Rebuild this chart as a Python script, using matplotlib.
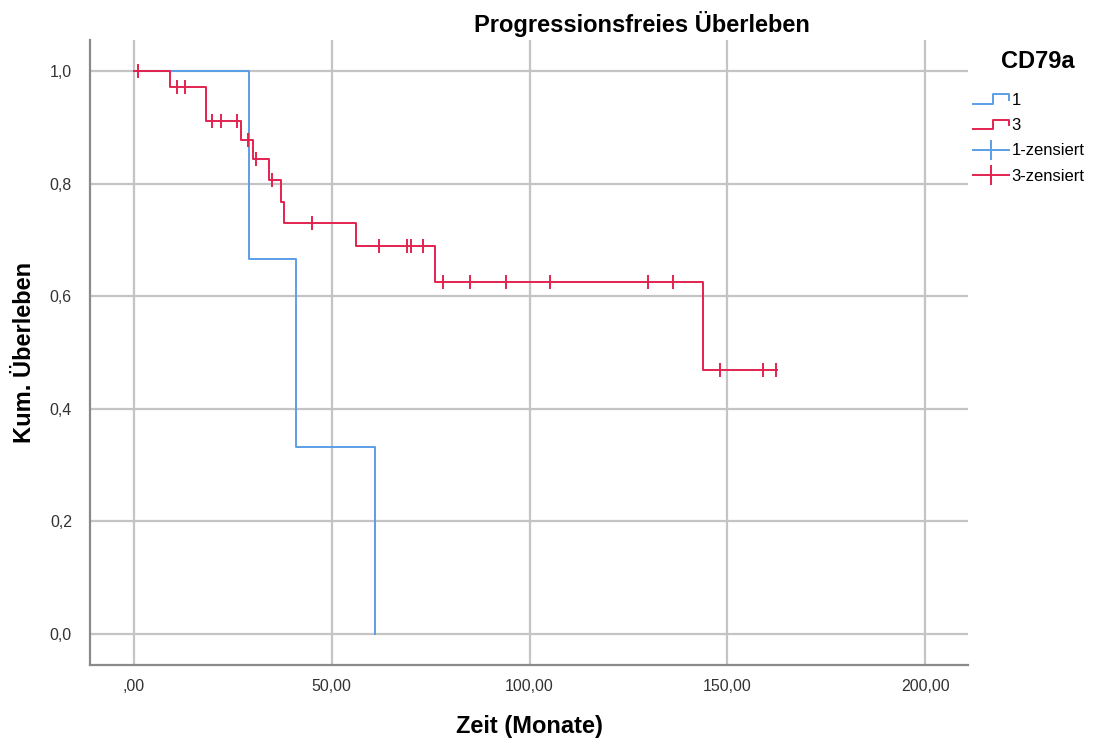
import matplotlib
matplotlib.use("Agg")
import matplotlib.pyplot as plt
import numpy as np
from matplotlib.legend_handler import HandlerBase
from matplotlib.lines import Line2D
from matplotlib.ticker import FixedLocator, FuncFormatter

plt.rcParams["font.family"] = ["Liberation Sans", "DejaVu Sans"]

TITLE = "Progressionsfreies Überleben"
LEGEND_TITLE = "CD79a"
X_LABEL = "Zeit (Monate)"
Y_LABEL = "Kum. Überleben"
LABELS = ["1", "3", "1-zensiert", "3-zensiert"]

# group 1: event times (months) and survival after each event
G1_EVENT_TIMES = [29.0, 41.0, 61.0]
G1_SURVIVAL = [0.667, 0.333, 0.0]
G1_CENSORED = []
G1_END = 61.0

# group 3
G3_EVENT_TIMES = [9.1, 18.1, 27.0, 30.0, 34.1, 37.1, 38.0, 56.1, 76.1, 143.9]
G3_SURVIVAL = [0.971, 0.911, 0.877, 0.844, 0.806, 0.767, 0.730, 0.689, 0.626, 0.469]
G3_CENSORED = [1.0, 10.9, 13.0, 19.8, 21.9, 26.1, 28.9, 30.8, 34.8, 44.9,
               62.0, 68.9, 70.0, 73.0, 78.0, 84.9, 94.0, 105.1, 130.0, 136.2,
               148.1, 159.1, 162.2]
G3_END = 162.6

X_TICKS = [0, 50, 100, 150, 200]
Y_TICKS = [0.0, 0.2, 0.4, 0.6, 0.8, 1.0]

BLUE = "#5b9ee6"
RED = "#e3234f"
GRID = "#c4c4c4"


class StepHandler(HandlerBase):
    def create_artists(self, legend, orig_handle, xdescent, ydescent,
                       width, height, fontsize, trans):
        x0 = -xdescent
        x1 = x0 + width
        xm = x0 + 0.55 * width
        y0 = -ydescent + 0.1 * height
        y1 = -ydescent + 0.9 * height
        ym = -ydescent + 0.4 * height
        line = Line2D([x0, xm, xm, x1, x1], [y0, y0, y1, y1, ym],
                      color=orig_handle.get_color(),
                      linewidth=orig_handle.get_linewidth())
        line.set_transform(trans)
        return [line]


def km_curve(times, surv, end):
    xs = [0.0] + list(times)
    ys = [1.0] + list(surv)
    if end > xs[-1]:
        xs.append(end)
        ys.append(ys[-1])
    return xs, ys


def censor_levels(times, surv, censored):
    levels = np.array([1.0] + list(surv))
    idx = np.searchsorted(np.array(times), np.array(censored), side="right")
    return levels[idx] if len(censored) else np.array([])


def fmt_x(v, pos):
    s = f"{v:.2f}".replace(".", ",")
    return s[1:] if s.startswith("0,") else s


def fmt_y(v, pos):
    return f"{v:.1f}".replace(".", ",")


def main():
    fig = plt.figure(figsize=(11.07, 7.42), dpi=100)
    ax = fig.add_axes([0.0813, 0.1038, 0.7931, 0.8422])

    x1, y1 = km_curve(G1_EVENT_TIMES, G1_SURVIVAL, G1_END)
    x3, y3 = km_curve(G3_EVENT_TIMES, G3_SURVIVAL, G3_END)
    ax.step(x1, y1, where="post", color=BLUE, lw=1.4, zorder=3)
    ax.step(x3, y3, where="post", color=RED, lw=1.4, zorder=4)

    c3 = censor_levels(G3_EVENT_TIMES, G3_SURVIVAL, G3_CENSORED)
    ax.plot(G3_CENSORED, c3, ls="none", marker="|", ms=10, mew=1.4,
            color=RED, zorder=5)

    ax.set_xlim(-11.1, 210.8)
    ax.set_ylim(-0.055, 1.055)
    ax.xaxis.set_major_locator(FixedLocator(X_TICKS))
    ax.yaxis.set_major_locator(FixedLocator(Y_TICKS))
    ax.xaxis.set_major_formatter(FuncFormatter(fmt_x))
    ax.yaxis.set_major_formatter(FuncFormatter(fmt_y))
    ax.tick_params(length=0, labelsize=11.5, colors="#333333")
    ax.tick_params(axis="x", pad=10)
    ax.tick_params(axis="y", pad=13)
    ax.grid(True, color=GRID, lw=1.6)
    ax.set_axisbelow(True)
    for side in ("top", "right"):
        ax.spines[side].set_visible(False)
    for side in ("left", "bottom"):
        ax.spines[side].set_color("#8a8a8a")
        ax.spines[side].set_linewidth(1.6)

    ax.set_xlabel(X_LABEL, fontsize=17, fontweight="bold", labelpad=15)
    ax.set_ylabel(Y_LABEL, fontsize=17, fontweight="bold", labelpad=10)
    fig.text(642 / 1107, 1 - 24 / 742, TITLE, fontsize=17, fontweight="bold",
             ha="center", va="center")

    fig.text(1038 / 1107, 1 - 62 / 742, LEGEND_TITLE, fontsize=17,
             fontweight="bold", ha="center", va="center")
    h1 = Line2D([], [], color=BLUE, lw=1.4)
    h3 = Line2D([], [], color=RED, lw=1.4)
    hc1 = Line2D([], [], color=BLUE, lw=1.4, marker="|", ms=14, mew=1.4)
    hc3 = Line2D([], [], color=RED, lw=1.4, marker="|", ms=14, mew=1.4)
    fig.legend([h1, h3, hc1, hc3], LABELS,
               handler_map={h1: StepHandler(), h3: StepHandler()},
               loc="upper left", bbox_to_anchor=(966 / 1107, 1 - 86 / 742),
               frameon=False, fontsize=12,
               handlelength=2.2, handletextpad=0.12, labelspacing=0.62,
               borderaxespad=0)

    fig.savefig("out.png", dpi=100)


if __name__ == "__main__":
    main()
